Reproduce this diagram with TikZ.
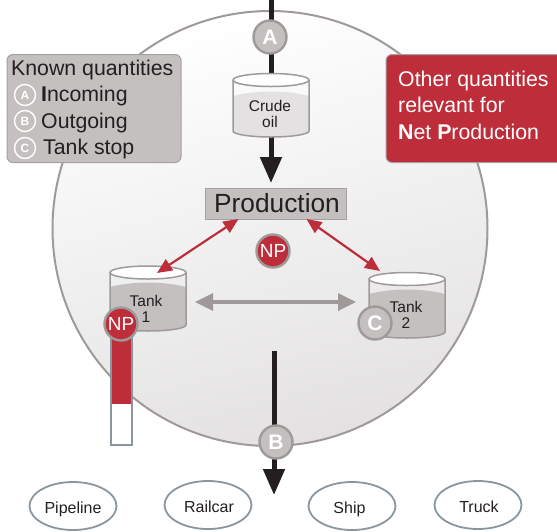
\documentclass[tikz,border=0pt]{standalone}
\usepackage{fontspec}
\setmainfont{Liberation Sans}
\usetikzlibrary{arrows.meta,shapes.geometric}
\definecolor{boxgrey}{HTML}{C4C0C0}
\definecolor{edgegrey}{HTML}{A5A0A1}
\definecolor{ringgrey}{HTML}{9F999A}
\definecolor{npred}{HTML}{BE2E3A}
\definecolor{slate}{HTML}{8A969E}
\definecolor{ink}{HTML}{231F20}
\definecolor{paleoil}{HTML}{E3E1E1}
\definecolor{midshade}{HTML}{F4F3F3}
\tikzset{
  badge/.style={circle,draw=ringgrey,line width=2.4pt,fill=boxgrey,text=white,minimum size=33pt,inner sep=0pt,font=\fontsize{21}{21}\selectfont\bfseries},
  npbadge/.style={circle,draw=ringgrey,line width=2.4pt,fill=npred,text=white,minimum size=33pt,inner sep=0pt,font=\fontsize{19}{19}\selectfont},
  keybadge/.style={circle,draw=white,line width=1.4pt,fill=none,text=white,minimum size=21pt,inner sep=0pt,font=\fontsize{12}{12}\selectfont\bfseries},
  keytext/.style={anchor=base west,inner sep=0pt,text=ink,font=\fontsize{21.3}{21.3}\selectfont},
  infobox/.style={draw=edgegrey,line width=1pt,rounded corners=6pt,anchor=north west,inner sep=0pt},
  dest/.style={ellipse,draw=slate,line width=1.8pt,minimum width=87pt,minimum height=48pt,inner sep=0pt,text=ink,text height=14pt,text depth=0pt,font=\fontsize{16}{16}\selectfont},
  tanklabel/.style={align=center,inner sep=0pt,text=ink,font=\fontsize{15.5}{16}\selectfont},
  flow/.style={draw=ink,line width=5pt},
  flowhead/.style={draw=ink,line width=5pt,-{Triangle[length=26pt,width=21pt,fill=ink]}},
  redarrow/.style={draw=npred,line width=2.2pt,{Triangle[length=15pt,width=13pt,fill=npred]}-{Triangle[length=15pt,width=13pt,fill=npred]}},
  greyarrow/.style={draw=ringgrey,line width=3.4pt,{Triangle[length=18pt,width=17pt,fill=ringgrey]}-{Triangle[length=18pt,width=17pt,fill=ringgrey]}},
}
% centre x, top-rim y, bottom-rim y, liquid y, liquid colour
\newcommand{\cylshape}[5]{%
  \fill[#5] ({#1-38},#4) .. controls ({#1-15},{#4-6}) and ({#1+15},{#4-6}) .. ({#1+38},#4) -- ({#1+38},#3) arc[start angle=0,end angle=180,x radius=38,y radius=6] -- cycle;
  \draw[ringgrey,line width=1.5pt] ({#1-38},#2) -- ({#1-38},#3) arc[start angle=180,end angle=0,x radius=38,y radius=6] -- ({#1+38},#2);
  \draw[ringgrey,line width=1.5pt,fill=white] (#1,#2) ellipse[x radius=38,y radius=6.5];
}
\begin{document}
\begin{tikzpicture}[x=1pt,y=-1pt]
\useasboundingbox (0,0) rectangle (557,531);
\begin{scope}
\clip (0,0) rectangle (557,531);
% main circle
\shade[top color=white,middle color=midshade,bottom color=paleoil,shading angle=15] (270,228.5) circle[radius=217.5];
\draw[ringgrey,line width=2pt] (270,228.5) circle[radius=217.5];
% boxes
\node[infobox,fill=boxgrey,minimum width=174pt,minimum height=108pt] (known) at (6.5,54) {};
\node[infobox,fill=npred,minimum width=180pt,minimum height=108pt] (other) at (385.5,54) {};
% known quantities
\node[keytext] (kq) at (11,75) {Known quantities};
\node[keybadge] (ka) at (25,95) {A};
\node[keybadge] (kb) at (25,121) {B};
\node[keybadge] (kc) at (25,148) {C};
\node[keytext] at (41,101.7) {\textbf{I}ncoming};
\node[keytext] at (41,128.3) {Outgoing};
\node[keytext] at (43,154.5) {Tank stop};
% other quantities
\node[keytext,text=white] at (398,86) {Other quantities};
\node[keytext,text=white] at (398,112.3) {relevant for};
\node[keytext,text=white] at (398,139) {\textbf{N}et \textbf{P}roduction};
% top flow
\coordinate (topin) at (271,0);
\coordinate (crudein) at (271,80);
\coordinate (crudeout) at (271,137);
\coordinate (prodin) at (271,183);
\draw[flow] (topin) -- (crudein);
\draw[flowhead] (crudeout) -- (prodin);
\node[badge] (A) at (270,37) {A};
% tanks
\cylshape{271}{80}{131}{96}{paleoil}
\node[tanklabel] (crude) at (270,114) {Crude\\oil};
\cylshape{148}{272.5}{325}{287}{boxgrey}
\node[tanklabel] (tank1) at (146,309) {Tank\\1};
\cylshape{407}{279}{332}{294}{boxgrey}
\node[tanklabel] (tank2) at (406,315) {Tank\\2};
% production
\node[draw=edgegrey,line width=1pt,fill=boxgrey,minimum width=141pt,minimum height=31pt,inner sep=0pt,text=ink,text depth=2pt,font=\fontsize{26.3}{26.3}\selectfont] (prod) at (275.5,204) {\kern3pt Production};
% connectors
\coordinate (t1top) at (157,273);
\coordinate (t2top) at (380,271);
\coordinate (p1) at (238.5,219);
\coordinate (p2) at (306.5,219);
\coordinate (t1side) at (195,302);
\coordinate (t2side) at (356,302);
\draw[redarrow] (p1) -- (t1top);
\draw[redarrow] (p2) -- (t2top);
\draw[greyarrow] (t1side) -- (t2side);
\node[npbadge] (NPc) at (273,251) {NP};
\node[badge] (C) at (375,323) {C};
% tube
\fill[white] (110.5,340) rectangle (131.5,445);
\fill[npred] (110.5,330) rectangle (131.5,404);
\draw[slate,line width=2pt] (110.5,330) rectangle (131.5,445);
\node[npbadge] (NPt) at (121,324) {NP};
% outgoing flow
\coordinate (outtop) at (274,351);
\coordinate (outtip) at (274,495);
\draw[flowhead] (outtop) -- (outtip);
\node[badge] (B) at (276,442) {B};
% destinations
\node[dest] (pipeline) at (73,506) {Pipeline};
\node[dest] (railcar) at (208,505) {\kern2pt Railcar};
\node[dest] (ship) at (352,506) {\kern-5pt Ship};
\node[dest] (truck) at (478,505) {\kern2pt Truck};
\end{scope}
\end{tikzpicture}
\end{document}
